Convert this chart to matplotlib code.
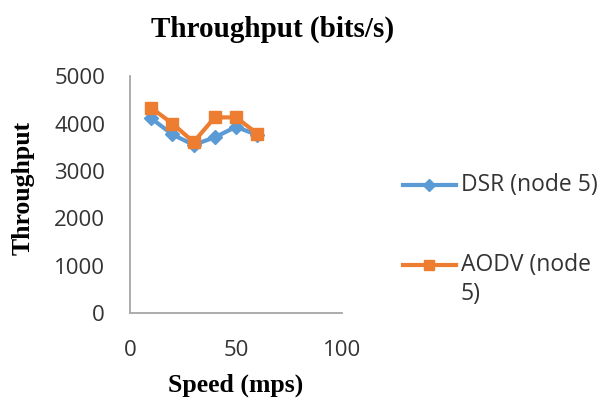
import matplotlib.pyplot as plt
from matplotlib.lines import Line2D

# data
speed = [10, 20, 30, 40, 50, 60]
dsr = [4110, 3770, 3550, 3710, 3930, 3760]
aodv = [4330, 4000, 3610, 4130, 4130, 3790]
x_ticks = [0, 50, 100]
y_ticks = [0, 1000, 2000, 3000, 4000, 5000]
series_names = ['DSR (node 5)', 'AODV (node\n5)']

blue = '#5B9BD5'
orange = '#ED7D31'

fig = plt.figure(figsize=(6.02, 4.03), dpi=100)
ax = fig.add_axes([0.216, 0.223, 0.352, 0.588])

ax.plot(speed, dsr, color=blue, linewidth=3, marker='D', markersize=7)
ax.plot(speed, aodv, color=orange, linewidth=3, marker='s', markersize=9)

ax.set_xlim(0, 100)
ax.set_ylim(0, 5000)
ax.set_xticks(x_ticks)
ax.set_yticks(y_ticks)
ax.tick_params(length=0, labelsize=16, colors='#333333')
ax.tick_params(axis='y', pad=18)
ax.tick_params(axis='x', pad=19)
for lab in ax.get_xticklabels() + ax.get_yticklabels():
    lab.set_family('Open Sans')

for s in ['top', 'right']:
    ax.spines[s].set_visible(False)
for s in ['left', 'bottom']:
    ax.spines[s].set_color('#a6a6a6')
    ax.spines[s].set_linewidth(1.3)

ax.set_xlabel('Speed (mps)', family='Liberation Serif', fontweight='bold',
              fontsize=18.5, va='center')
ax.xaxis.set_label_coords(0.5, -0.304)
ax.set_ylabel('Throughput', family='Liberation Serif', fontweight='bold',
              fontsize=18.5, va='center')
ax.yaxis.set_label_coords(-0.505, 0.53)
fig.text(0.452, 0.926, 'Throughput (bits/s)', family='Liberation Serif',
         fontweight='bold', fontsize=21, ha='center', va='center')

# legend drawn by hand so the marker sits on the first text line
legend_y = [0.541, 0.342]
for name, col, mk, ms, y in zip(series_names, [blue, orange], ['D', 's'],
                                [6, 7], legend_y):
    fig.add_artist(Line2D([0.669, 0.757], [y, y], color=col, linewidth=3,
                          transform=fig.transFigure))
    fig.add_artist(Line2D([0.713], [y], color=col, marker=mk, markersize=ms,
                          transform=fig.transFigure))
    first, *rest = name.split('\n')
    fig.text(0.765, y, first, family='Open Sans', fontsize=16.5, color='#333333',
             ha='left', va='center')
    if rest:
        fig.text(0.765, y - 0.072, rest[0], family='Open Sans', fontsize=16.5,
                 color='#333333', ha='left', va='center')

plt.savefig('out.png', dpi=100)
